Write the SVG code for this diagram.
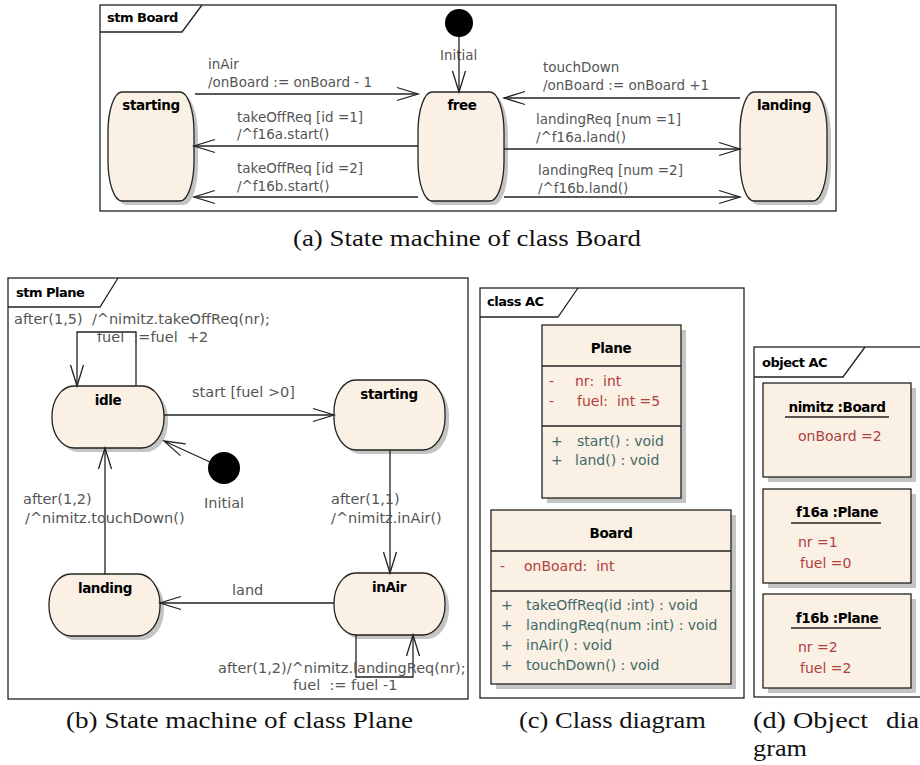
<svg xmlns="http://www.w3.org/2000/svg" width="920" height="765" viewBox="0 0 920 765">
<style>
.frame{fill:#fff;stroke:#222;stroke-width:1.3}
.tab{fill:none;stroke:#222;stroke-width:1.3}
.tabt{font-family:"DejaVu Sans",sans-serif;font-weight:bold;font-size:13px;fill:#000;letter-spacing:-0.5px}
.st{fill:#faf0e3;stroke:#222;stroke-width:1.3}
.sh{fill:#c4c4c4}
.sn{font-family:"DejaVu Sans",sans-serif;font-weight:bold;font-size:13.5px;fill:#000;text-anchor:middle;letter-spacing:-0.4px}
.lbl{font-family:"DejaVu Sans",sans-serif;font-size:13.5px;fill:#555}
.lblb{font-family:"DejaVu Sans",sans-serif;font-size:14.5px;fill:#555}
.edge{fill:none;stroke:#222;stroke-width:1.3}
.attr{font-family:"DejaVu Sans",sans-serif;font-size:14px;fill:#b04040}
.op{font-family:"DejaVu Sans",sans-serif;font-size:14px;fill:#3f6a6a}
.sep{stroke:#222;stroke-width:1.3}
.cap{font-family:"Liberation Serif","DejaVu Serif",serif;font-size:24px;fill:#111}
</style>
<defs>
<marker id="arr" markerUnits="userSpaceOnUse" markerWidth="26" markerHeight="18" viewBox="-23 -9 26 18" refX="0" refY="0" orient="auto">
<path d="M-21,-6.5 L0,0 L-21,6.5" fill="none" stroke="#222" stroke-width="1.3"/>
</marker>
</defs>

<!-- (a) State machine Board -->
<g id="frame-board">
<rect class="frame" x="100" y="5" width="736" height="206"/>
<path class="tab" d="M100,32 L182,32 L202,5"/>
<text class="tabt" x="107" y="22">stm Board</text>
</g>
<g id="a-initial">
<circle cx="459" cy="23" r="14" fill="#000"/>
<text class="lbl" x="440" y="60">Initial</text>
</g>
<g id="a-starting">
<rect class="sh" x="112" y="96" width="86" height="109" rx="14" ry="40"/>
<rect class="st" x="108" y="92" width="86" height="109" rx="14" ry="40"/>
<text class="sn" x="151" y="110">starting</text>
</g>
<g id="a-free">
<rect class="sh" x="422" y="96" width="86" height="109" rx="14" ry="40"/>
<rect class="st" x="418" y="92" width="86" height="109" rx="14" ry="40"/>
<text class="sn" x="462" y="110">free</text>
</g>
<g id="a-landing">
<rect class="sh" x="744" y="96" width="87" height="109" rx="14" ry="40"/>
<rect class="st" x="740" y="92" width="87" height="109" rx="14" ry="40"/>
<text class="sn" x="784" y="110">landing</text>
</g>
<g id="a-edges">
<line class="edge" x1="459" y1="37" x2="459" y2="92" marker-end="url(#arr)"/>
<line class="edge" x1="195" y1="94" x2="418" y2="94" marker-end="url(#arr)"/>
<text class="lbl" x="208" y="69">inAir</text>
<text class="lbl" x="208" y="87">/onBoard := onBoard - 1</text>
<line class="edge" x1="418" y1="146" x2="194" y2="146" marker-end="url(#arr)"/>
<text class="lbl" x="237" y="122">takeOffReq [id =1]</text>
<text class="lbl" x="237" y="139">/^f16a.start()</text>
<line class="edge" x1="418" y1="197" x2="194" y2="197" marker-end="url(#arr)"/>
<text class="lbl" x="237" y="173">takeOffReq [id =2]</text>
<text class="lbl" x="237" y="191">/^f16b.start()</text>
<line class="edge" x1="740" y1="98" x2="504" y2="98" marker-end="url(#arr)"/>
<text class="lbl" x="543" y="72">touchDown</text>
<text class="lbl" x="543" y="90">/onBoard := onBoard +1</text>
<line class="edge" x1="504" y1="149" x2="740" y2="149" marker-end="url(#arr)"/>
<text class="lbl" x="536" y="124">landingReq [num =1]</text>
<text class="lbl" x="536" y="142">/^f16a.land()</text>
<line class="edge" x1="504" y1="197" x2="740" y2="197" marker-end="url(#arr)"/>
<text class="lbl" x="538" y="175">landingReq [num =2]</text>
<text class="lbl" x="538" y="193">/^f16b.land()</text>
</g>
<text class="cap" x="293" y="246" textLength="348" lengthAdjust="spacingAndGlyphs">(a) State machine of class Board</text>

<!-- (b) State machine Plane -->
<g id="frame-plane">
<rect class="frame" x="8" y="278" width="460" height="421"/>
<path class="tab" d="M8,307 L100,307 L118,278"/>
<text class="tabt" x="16" y="297">stm Plane</text>
</g>
<g id="b-initial">
<circle cx="224" cy="468" r="16" fill="#000"/>
<text class="lblb" x="204" y="508">Initial</text>
</g>
<g id="b-idle">
<rect class="sh" x="56" y="390" width="112" height="62" rx="22" ry="30"/>
<rect class="st" x="52" y="386" width="112" height="62" rx="22" ry="30"/>
<text class="sn" x="108" y="405">idle</text>
</g>
<g id="b-starting">
<rect class="sh" x="338" y="384" width="111" height="70" rx="22" ry="32"/>
<rect class="st" x="334" y="380" width="111" height="70" rx="22" ry="32"/>
<text class="sn" x="389" y="399">starting</text>
</g>
<g id="b-landing">
<rect class="sh" x="53" y="578" width="111" height="62" rx="22" ry="30"/>
<rect class="st" x="49" y="574" width="111" height="62" rx="22" ry="30"/>
<text class="sn" x="105" y="593">landing</text>
</g>
<g id="b-inAir">
<rect class="sh" x="338" y="577" width="111" height="62" rx="22" ry="30"/>
<rect class="st" x="334" y="573" width="111" height="62" rx="22" ry="30"/>
<text class="sn" x="389" y="592">inAir</text>
</g>
<g id="b-edges">
<polyline class="edge" points="136,386 136,332 77,332 77,386" marker-end="url(#arr)"/>
<text class="lblb" x="14" y="324" xml:space="preserve">after(1,5)  /^nimitz.takeOffReq(nr);</text>
<text class="lblb" x="97" y="342" xml:space="preserve">fuel  :=fuel  +2</text>
<line class="edge" x1="164" y1="415" x2="334" y2="415" marker-end="url(#arr)"/>
<text class="lblb" x="192" y="397">start [fuel &gt;0]</text>
<line class="edge" x1="210" y1="462" x2="164" y2="441" marker-end="url(#arr)"/>
<line class="edge" x1="390" y1="450" x2="390" y2="573" marker-end="url(#arr)"/>
<text class="lblb" x="331" y="504">after(1,1)</text>
<text class="lblb" x="331" y="523">/^nimitz.inAir()</text>
<line class="edge" x1="334" y1="603" x2="160" y2="603" marker-end="url(#arr)"/>
<text class="lblb" x="232" y="595">land</text>
<line class="edge" x1="105" y1="574" x2="105" y2="448" marker-end="url(#arr)"/>
<text class="lblb" x="23" y="504">after(1,2)</text>
<text class="lblb" x="25" y="523">/^nimitz.touchDown()</text>
<polyline class="edge" points="356,635 356,677 413,677 413,635" marker-end="url(#arr)"/>
<text class="lblb" x="218" y="673">after(1,2)/^nimitz.landingReq(nr);</text>
<text class="lblb" x="293" y="690" xml:space="preserve">fuel  := fuel -1</text>
</g>
<text class="cap" x="66" y="728" textLength="347" lengthAdjust="spacingAndGlyphs">(b) State machine of class Plane</text>

<!-- (c) Class diagram -->
<g id="frame-class">
<rect class="frame" x="480" y="288" width="264" height="410"/>
<path class="tab" d="M480,317 L558,317 L578,288"/>
<text class="tabt" x="487" y="306">class AC</text>
</g>
<g id="c-plane">
<rect class="sh" x="547" y="330" width="139" height="173"/>
<rect class="st" x="542" y="325" width="139" height="173"/>
<text class="sn" x="611" y="353">Plane</text>
<line class="sep" x1="542" y1="366" x2="681" y2="366"/>
<text class="attr" x="549" y="386">-</text>
<text class="attr" x="575" y="386" xml:space="preserve">nr:  int</text>
<text class="attr" x="549" y="406">-</text>
<text class="attr" x="577" y="406" xml:space="preserve">fuel:  int =5</text>
<line class="sep" x1="542" y1="426" x2="681" y2="426"/>
<text class="op" x="551" y="446">+</text>
<text class="op" x="577" y="446">start() : void</text>
<text class="op" x="551" y="465">+</text>
<text class="op" x="575" y="465">land() : void</text>
</g>
<g id="c-board">
<rect class="sh" x="496" y="515" width="240" height="174"/>
<rect class="st" x="491" y="510" width="240" height="174"/>
<text class="sn" x="611" y="538">Board</text>
<line class="sep" x1="491" y1="551" x2="731" y2="551"/>
<text class="attr" x="500" y="571">-</text>
<text class="attr" x="524" y="571" xml:space="preserve">onBoard:  int</text>
<line class="sep" x1="491" y1="591" x2="731" y2="591"/>
<text class="op" x="501" y="610">+</text>
<text class="op" x="526" y="610">takeOffReq(id :int) : void</text>
<text class="op" x="501" y="630">+</text>
<text class="op" x="526" y="630">landingReq(num :int) : void</text>
<text class="op" x="501" y="650">+</text>
<text class="op" x="526" y="650">inAir() : void</text>
<text class="op" x="501" y="670">+</text>
<text class="op" x="526" y="670">touchDown() : void</text>
</g>
<text class="cap" x="519" y="728" textLength="187" lengthAdjust="spacingAndGlyphs">(c) Class diagram</text>

<!-- (d) Object diagram -->
<g id="frame-object">
<rect class="frame" x="754" y="347" width="180" height="350"/>
<path class="tab" d="M754,377 L843,377 L865,347"/>
<text class="tabt" x="762" y="367">object AC</text>
</g>
<g id="d-nimitz">
<rect class="sh" x="768" y="388" width="148" height="94"/>
<rect class="st" x="763" y="383" width="148" height="94"/>
<text class="sn" x="837" y="412">nimitz :Board</text>
<line class="sep" x1="785" y1="417" x2="889" y2="417"/>
<text class="attr" x="798" y="441">onBoard =2</text>
</g>
<g id="d-f16a">
<rect class="sh" x="768" y="494" width="148" height="94"/>
<rect class="st" x="763" y="489" width="148" height="94"/>
<text class="sn" x="837" y="517">f16a :Plane</text>
<line class="sep" x1="791" y1="523" x2="881" y2="523"/>
<text class="attr" x="798" y="547">nr =1</text>
<text class="attr" x="800" y="568">fuel =0</text>
</g>
<g id="d-f16b">
<rect class="sh" x="768" y="599" width="148" height="94"/>
<rect class="st" x="763" y="594" width="148" height="94"/>
<text class="sn" x="837" y="623">f16b :Plane</text>
<line class="sep" x1="791" y1="628" x2="881" y2="628"/>
<text class="attr" x="798" y="652">nr =2</text>
<text class="attr" x="800" y="673">fuel =2</text>
</g>
<text class="cap" x="753" y="728" textLength="115" lengthAdjust="spacingAndGlyphs">(d) Object</text>
<text class="cap" x="886" y="728" textLength="33" lengthAdjust="spacingAndGlyphs">dia</text>
<text class="cap" x="753" y="756" textLength="54" lengthAdjust="spacingAndGlyphs">gram</text>
</svg>
